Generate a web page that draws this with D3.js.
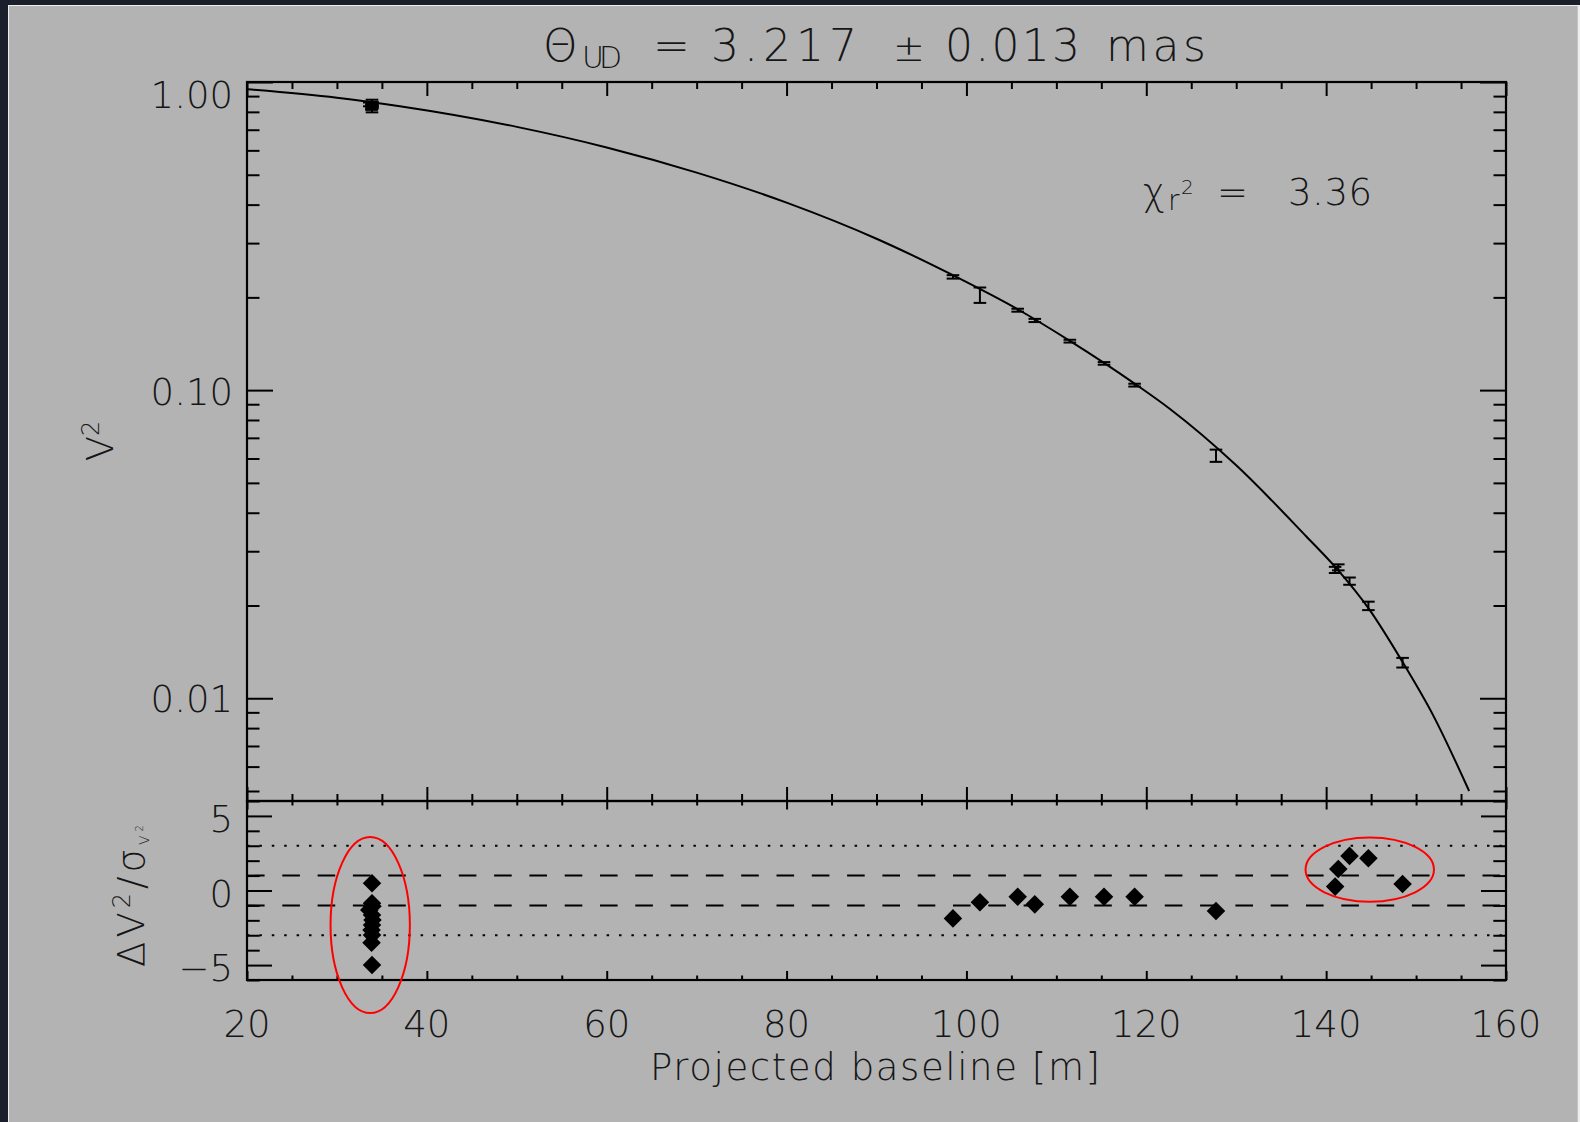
<!DOCTYPE html>
<html><head><meta charset="utf-8">
<script src="https://cdn.jsdelivr.net/npm/d3@7"></script>
<style>
html,body{margin:0;padding:0;background:#1b1f2b;overflow:hidden;}
svg{display:block;}
text{font-family:"DejaVu Sans","Liberation Sans",sans-serif;font-weight:200;fill:#161616;}
</style></head><body>
<svg id="c" width="1580" height="1122"></svg>
<script>
// ---------- data ----------
const xTickValues = [20,40,60,80,100,120,140,160];
const xTickLabels = ["20","40","60","80","100","120","140","160"];
const v2TickValues = [1,0.1,0.01];
const v2TickLabels = ["1.00","0.10","0.01"];
const resTickValues = [5,0,-5];
const resTickLabels = ["5","0","\u22125"];

// observed squared visibilities (top panel)
const obsBaseline = [33.9,33.9,33.95,33.6,33.9,33.95,33.9,33.85,33.9,33.85,33.9,
                     98.5,101.5,105.7,107.6,111.5,115.3,118.7,127.75,141.0,141.35,142.6,144.7,148.5];
const obsV2 = [0.864,0.850,0.849,0.846,0.843,0.839,0.836,0.833,0.829,0.824,0.809,
               0.2331,0.2036,0.1817,0.1683,0.1442,0.1221,0.1038,0.0613,0.0261,0.0266,0.0240,0.01995,0.01305];
const obsErr = [0.012,0.012,0.012,0.012,0.012,0.012,0.012,0.012,0.012,0.012,0.012,
                0.003,0.0117,0.002,0.002,0.0015,0.0012,0.0011,0.0028,0.0006,0.0006,0.00065,0.00063,0.00047];
// normalised residuals (bottom panel)
const resValues = [0.48,-0.86,-1.05,-1.31,-1.64,-1.98,-2.31,-2.65,-2.99,-3.5,-5.0,
                   -1.87,-0.79,-0.42,-0.93,-0.42,-0.42,-0.42,-1.38,0.26,1.44,2.32,2.16,0.44];

// uniform-disk model curve
const modelBaseline = [20,30,37,50,60,70,80,90,98.5,105.7,111.5,118.7,122.6,130,137.8,141.2,144.7,148.5,151.9,155.9];
const modelV2 = [0.947,0.889,0.834,0.715,0.613,0.508,0.406,0.310,0.236,0.183,0.1445,0.1050,0.0870,0.0570,0.0335,0.0263,0.0196,0.0131,0.0088,0.0050];

// reference lines in the residual panel
const dashedLevels = [1,-1];
const dottedLevels = [3,-3];

// red annotation ellipses (data units)
const ellipseCx = [33.7,144.85];
const ellipseCy = [-2.32,1.40];
const ellipseRx = [4.41,7.14];
const ellipseRy = [5.9,2.15];

const chiText = "3.36";

// ---------- layout ----------
const L = 247, R = 1506, T1 = 82, B1 = 801, B2 = 980;
const svg = d3.select("#c");

// backgrounds
svg.append("rect").attr("x",0).attr("y",0).attr("width",1580).attr("height",1122).attr("fill","#1b1f2b");
svg.append("rect").attr("x",8).attr("y",5).attr("width",1572).attr("height",1117).attr("fill","#eeeeee");
svg.append("rect").attr("x",9).attr("y",6).attr("width",1568.7).attr("height",1116).attr("fill","#b3b3b3");

const x = d3.scaleLinear().domain([20,160]).range([L,R]);
const yV = d3.scaleLog().domain([0.00464,1]).range([B1,T1]);
const yR = d3.scaleLinear().domain([-6,6]).range([B2,B1]);

const xMinor = d3.range(20,161,5).filter(v => v % 20 !== 0);
const vMinor = yV.ticks().filter(v => Math.abs(Math.log10(v) - Math.round(Math.log10(v))) > 1e-6);
const rMinor = d3.range(-6,7,1).filter(v => v % 5 !== 0);

function ticks(gen, tx, ty){
  const g = svg.append("g").attr("transform",`translate(${tx},${ty})`).call(gen);
  g.select(".domain").remove();
  g.selectAll("text").remove();
  g.selectAll("line").attr("stroke","#000").attr("stroke-width",2);
}
// top panel
ticks(d3.axisLeft(yV).tickValues(v2TickValues).tickSize(-26), L, 0);
ticks(d3.axisLeft(yV).tickValues(vMinor).tickSize(-12.5), L, 0);
ticks(d3.axisRight(yV).tickValues(v2TickValues).tickSize(-26), R, 0);
ticks(d3.axisRight(yV).tickValues(vMinor).tickSize(-12.5), R, 0);
ticks(d3.axisTop(x).tickValues(xTickValues).tickSize(-14), 0, T1);
ticks(d3.axisTop(x).tickValues(xMinor).tickSize(-7), 0, T1);
ticks(d3.axisBottom(x).tickValues(xTickValues).tickSize(-14), 0, B1);
ticks(d3.axisBottom(x).tickValues(xMinor).tickSize(-7), 0, B1);
// residual panel
ticks(d3.axisLeft(yR).tickValues(resTickValues).tickSize(-25), L, 0);
ticks(d3.axisLeft(yR).tickValues(rMinor).tickSize(-12.7), L, 0);
ticks(d3.axisRight(yR).tickValues(resTickValues).tickSize(-25), R, 0);
ticks(d3.axisRight(yR).tickValues(rMinor).tickSize(-12.7), R, 0);
ticks(d3.axisTop(x).tickValues(xTickValues).tickSize(-8.5), 0, B1);
ticks(d3.axisTop(x).tickValues(xMinor).tickSize(-4.5), 0, B1);
ticks(d3.axisBottom(x).tickValues(xTickValues).tickSize(-9), 0, B2);
ticks(d3.axisBottom(x).tickValues(xMinor).tickSize(-4.5), 0, B2);

// frames
svg.append("rect").attr("x",L).attr("y",T1).attr("width",R-L).attr("height",B1-T1)
  .attr("fill","none").attr("stroke","#000").attr("stroke-width",2.2);
svg.append("rect").attr("x",L).attr("y",B1).attr("width",R-L).attr("height",B2-B1)
  .attr("fill","none").attr("stroke","#000").attr("stroke-width",2.2);

// residual reference lines
svg.selectAll(".dash").data(dashedLevels).join("line")
  .attr("x1",L).attr("x2",R).attr("y1",d=>yR(d)).attr("y2",d=>yR(d))
  .attr("stroke","#000").attr("stroke-width",2).attr("stroke-dasharray","17.6,17.7");
svg.selectAll(".dot").data(dottedLevels).join("line")
  .attr("x1",L).attr("x2",R).attr("y1",d=>yR(d)).attr("y2",d=>yR(d))
  .attr("stroke","#000").attr("stroke-width",2).attr("stroke-dasharray","2.5,9.9");

// model curve
const model = modelBaseline.map((b,i)=>({b, v:modelV2[i]}));
svg.append("path").datum(model)
  .attr("d", d3.line().x(d=>x(d.b)).y(d=>yV(d.v)).curve(d3.curveMonotoneX))
  .attr("fill","none").attr("stroke","#000").attr("stroke-width",2);

// error bars
const obs = obsBaseline.map((b,i)=>({b, v:obsV2[i], e:obsErr[i], r:resValues[i]}));
const eb = svg.append("g").attr("stroke","#000").attr("stroke-width",2);
obs.forEach(d=>{
  const cx = x(d.b), y1 = yV(d.v - d.e), y2 = yV(d.v + d.e);
  eb.append("line").attr("x1",cx).attr("x2",cx).attr("y1",y1).attr("y2",y2);
  eb.append("line").attr("x1",cx-6.3).attr("x2",cx+6.3).attr("y1",y1).attr("y2",y1);
  eb.append("line").attr("x1",cx-6.3).attr("x2",cx+6.3).attr("y1",y2).attr("y2",y2);
});

// residual diamonds
const sym = d3.symbol().type(d3.symbolSquare).size(172)();
svg.append("g").selectAll("path").data(obs).join("path")
  .attr("d", sym)
  .attr("transform", d=>`translate(${x(d.b)},${yR(d.r)}) rotate(45)`)
  .attr("fill","#000");

// ellipses
ellipseCx.forEach((c,i)=>{
  svg.append("ellipse")
    .attr("cx", x(c)).attr("cy", yR(ellipseCy[i]))
    .attr("rx", x(c+ellipseRx[i]) - x(c))
    .attr("ry", yR(ellipseCy[i]-ellipseRy[i]) - yR(ellipseCy[i]))
    .attr("fill","none").attr("stroke","#ff0000").attr("stroke-width",2);
});

// ---------- text ----------
const FS = 37;
const vLabY = [26, 15, 14];
v2TickValues.forEach((v,i)=>{
  svg.append("text").attr("x",233).attr("y",yV(v)+vLabY[i]).attr("text-anchor","end")
    .attr("font-size",FS).text(v2TickLabels[i]);
});
resTickValues.forEach((v,i)=>{
  svg.append("text").attr("x",233).attr("y",yR(v)+16).attr("text-anchor","end")
    .attr("font-size",FS).text(resTickLabels[i]);
});
xTickValues.forEach((v,i)=>{
  svg.append("text").attr("x",x(v)).attr("y",1037).attr("text-anchor","middle")
    .attr("font-size",FS).text(xTickLabels[i]);
});

// title
const tt = svg.append("g");
tt.append("text").attr("x",543).attr("y",60.5).attr("font-size",44).text("\u0398");
tt.append("text").attr("x",582).attr("y",68).attr("font-size",30).attr("textLength",40).text("UD");
tt.append("text").attr("x",653).attr("y",60.5).attr("font-size",44).text("=");
tt.append("text").attr("x",711).attr("y",60.5).attr("font-size",44).attr("textLength",146).text("3.217");
tt.append("text").attr("x",893).attr("y",60.5).attr("font-size",38).text("\u00b1");
tt.append("text").attr("x",945).attr("y",60.5).attr("font-size",44).attr("textLength",135).text("0.013");
tt.append("text").attr("x",1106).attr("y",60.5).attr("font-size",44).attr("textLength",100).text("mas");

// chi^2 annotation
svg.append("text").attr("x",1143).attr("y",205).attr("font-size",FS).text("\u03c7");
svg.append("text").attr("x",1168).attr("y",210).attr("font-size",28).text("r");
svg.append("text").attr("x",1181).attr("y",194).attr("font-size",20).text("2");
svg.append("text").attr("x",1217).attr("y",205).attr("font-size",FS).text("=");
svg.append("text").attr("x",1288).attr("y",205).attr("font-size",FS).attr("textLength",84).text(chiText);

// x axis title
svg.append("text").attr("x",650).attr("y",1080).attr("font-size",FS).attr("textLength",450)
  .text("Projected baseline [m]");

// y axis titles
const yt = svg.append("text").attr("transform","translate(113,441) rotate(-90)")
  .attr("text-anchor","middle").attr("font-size",FS);
yt.append("tspan").text("V");
yt.append("tspan").attr("font-size",24).attr("dy",-14).text("2");

const rt = svg.append("text").attr("transform","translate(144,894) rotate(-90)")
  .attr("text-anchor","middle").attr("font-size",FS).attr("letter-spacing",4);
rt.append("tspan").text("\u0394V");
rt.append("tspan").attr("font-size",24).attr("dy",-14).text("2");
rt.append("tspan").attr("dy",14).text("/\u03c3");
rt.append("tspan").attr("font-size",14).attr("dy",5).text("V");
rt.append("tspan").attr("font-size",10).attr("dy",-6).text("2");
</script>
</body></html>
